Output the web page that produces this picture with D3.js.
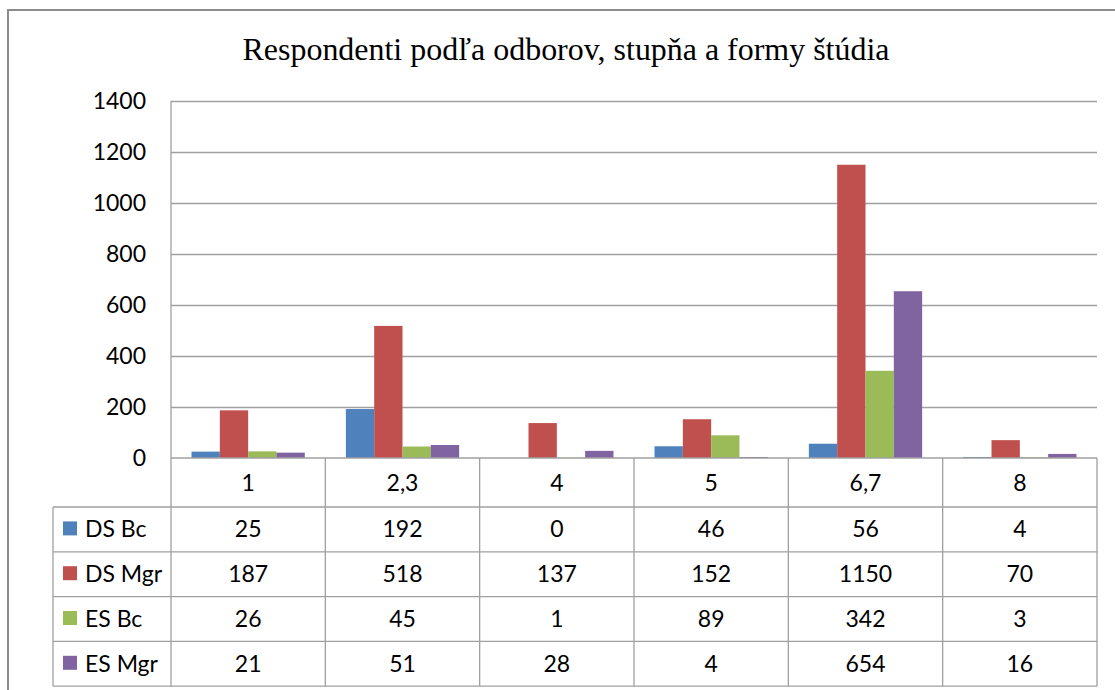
<!DOCTYPE html>
<html>
<head>
  <title>Respondenti podľa odborov</title>
  <script src="https://d3js.org/d3.v7.min.js"></script>
  <style>
    body { margin: 0; background: #fff; }
    text { font-family: Lato, "Open Sans", sans-serif; fill: #000; }
    .title { font-family: "Liberation Serif", "DejaVu Serif", serif; }
  </style>
</head>
<body>
  <svg id="chart"></svg>

  <script>
    var categories = ['1', '2,3', '4', '5', '6,7', '8'];
    var seriesNames = ['DS Bc', 'DS Mgr', 'ES Bc', 'ES Mgr'];
    var dsBc = [25, 192, 0, 46, 56, 4];
    var dsMgr = [187, 518, 137, 152, 1150, 70];
    var esBc = [26, 45, 1, 89, 342, 3];
    var esMgr = [21, 51, 28, 4, 654, 16];
    var yTicks = [0, 200, 400, 600, 800, 1000, 1200, 1400];
    var colors = ['#4f81bd', '#c0504d', '#9bbb59', '#8064a2'];
    var titleText = 'Respondenti podľa odborov, stupňa a formy štúdia';

    var seriesValues = [dsBc, dsMgr, esBc, esMgr];

    var svgWidth = 1115;
    var svgHeight = 690;
    var plotLeft = 171, plotRight = 1097, plotTop = 101, zero = 458;
    var headerBottom = 507, rowH = 44.8, tableLeft = 53;
    var gridColor = '#a0a0a0';
    var fontSize = '23px';

    var svg = d3.select('#chart')
      .attr('width', svgWidth)
      .attr('height', svgHeight);

    // outer chart border
    svg.append('rect')
      .attr('x', 8).attr('y', 10)
      .attr('width', 1140).attr('height', 700)
      .attr('fill', 'none')
      .attr('stroke', '#8c8c8c')
      .attr('stroke-width', 2);

    // title, squeezed to the width seen in the picture
    var title = svg.append('text')
      .attr('class', 'title')
      .attr('x', 566).attr('y', 60)
      .attr('text-anchor', 'middle')
      .style('font-size', '31px')
      .text(titleText);
    var tw = title.node().getComputedTextLength();
    title.style('font-size', (31 * 647 / tw) + 'px');

    var x0 = d3.scaleBand()
      .domain(categories)
      .range([plotLeft, plotRight])
      .paddingInner(0);

    var groupW = x0.bandwidth() * 0.734;
    var x1 = d3.scaleBand()
      .domain(seriesNames)
      .range([(x0.bandwidth() - groupW) / 2, (x0.bandwidth() + groupW) / 2]);

    var y = d3.scaleLinear()
      .domain([0, 1400])
      .range([zero, plotTop]);

    // gridlines
    svg.append('g')
      .selectAll('line')
      .data(yTicks.slice(1))
      .enter().append('line')
      .attr('x1', plotLeft).attr('x2', plotRight)
      .attr('y1', function(d) { return Math.round(y(d)) + 0.5; })
      .attr('y2', function(d) { return Math.round(y(d)) + 0.5; })
      .attr('stroke', gridColor)
      .attr('stroke-width', 1.3);

    // y axis labels
    var yAxis = svg.append('g')
      .attr('transform', 'translate(' + plotLeft + ',0)')
      .call(d3.axisLeft(y).tickValues(yTicks).tickFormat(d3.format('d')).tickSize(0).tickPadding(25));
    yAxis.select('.domain').remove();
    yAxis.selectAll('text')
      .style('font-size', fontSize)
      .style('font-family', 'Lato, sans-serif')
      .attr('fill', '#000');

    // bars
    var groups = svg.append('g')
      .selectAll('g')
      .data(categories)
      .enter().append('g')
      .attr('transform', function(d) { return 'translate(' + x0(d) + ',0)'; });

    groups.selectAll('rect')
      .data(function(d, i) {
        return seriesNames.map(function(s, j) {
          return { s: s, v: seriesValues[j][i], c: colors[j] };
        });
      })
      .enter().append('rect')
      .attr('x', function(d) { return x1(d.s); })
      .attr('y', function(d) { return y(d.v); })
      .attr('width', x1.bandwidth())
      .attr('height', function(d) { return zero - y(d.v); })
      .attr('fill', function(d) { return d.c; });

    // data table
    var tableBottom = headerBottom + rowH * seriesNames.length;
    var t = svg.append('g');

    // zero line / header top
    t.append('line')
      .attr('x1', plotLeft).attr('x2', plotRight)
      .attr('y1', zero).attr('y2', zero)
      .attr('stroke', gridColor).attr('stroke-width', 1.3);

    // horizontal row lines
    t.selectAll('.hrow')
      .data(d3.range(seriesNames.length + 1))
      .enter().append('line')
      .attr('x1', tableLeft).attr('x2', plotRight)
      .attr('y1', function(i) { return headerBottom + i * rowH; })
      .attr('y2', function(i) { return headerBottom + i * rowH; })
      .attr('stroke', gridColor).attr('stroke-width', 1.3);

    // vertical lines between categories
    t.selectAll('.vcol')
      .data(categories.slice(1).concat(['end']))
      .enter().append('line')
      .attr('x1', function(d) { return d === 'end' ? plotRight : x0(d); })
      .attr('x2', function(d) { return d === 'end' ? plotRight : x0(d); })
      .attr('y1', zero).attr('y2', tableBottom)
      .attr('stroke', gridColor).attr('stroke-width', 1.3);

    // value axis line
    t.append('line')
      .attr('x1', plotLeft).attr('x2', plotLeft)
      .attr('y1', plotTop).attr('y2', tableBottom)
      .attr('stroke', gridColor).attr('stroke-width', 1.3);

    // left border of legend column
    t.append('line')
      .attr('x1', tableLeft).attr('x2', tableLeft)
      .attr('y1', headerBottom).attr('y2', tableBottom)
      .attr('stroke', gridColor).attr('stroke-width', 1.3);

    // category header
    t.selectAll('.cat')
      .data(categories)
      .enter().append('text')
      .attr('x', function(d) { return x0(d) + x0.bandwidth() / 2; })
      .attr('y', (zero + headerBottom) / 2)
      .attr('dy', '0.35em')
      .attr('text-anchor', 'middle')
      .style('font-size', fontSize)
      .text(function(d) { return d; });

    // rows
    seriesNames.forEach(function(s, j) {
      var cy = headerBottom + rowH * j + rowH / 2;
      t.append('rect')
        .attr('x', 63).attr('y', cy - 8)
        .attr('width', 14).attr('height', 14)
        .attr('fill', colors[j]);
      t.append('text')
        .attr('x', 85).attr('y', cy)
        .attr('dy', '0.35em')
        .style('font-size', fontSize)
        .text(s);
      t.selectAll('.v' + j)
        .data(seriesValues[j])
        .enter().append('text')
        .attr('x', function(d, i) { return x0(categories[i]) + x0.bandwidth() / 2; })
        .attr('y', cy)
        .attr('dy', '0.35em')
        .attr('text-anchor', 'middle')
        .style('font-size', fontSize)
        .text(function(d) { return d; });
    });
  </script>
</body>
</html>
